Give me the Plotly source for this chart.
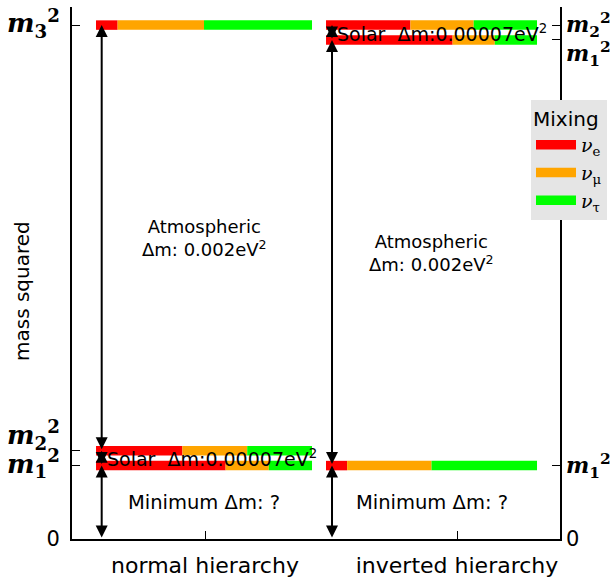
import plotly.graph_objects as go

# ---------------- data ----------------
hierarchies = ["normal hierarchy", "inverted hierarchy"]
flavour_names = ["ν<sub>e</sub>", "ν<sub>μ</sub>", "ν<sub>τ</sub>"]
flavour_colors = ["#ff0000", "#ffa500", "#00ff00"]

# mass-squared of states 1, 2, 3 (eV^2)
normal_mass_sq = [0.000345, 0.000415, 0.002415]
inverted_mass_sq = [0.002345, 0.002415, 0.000345]

# flavour content (e, mu, tau) of states 1, 2, 3
state_mixing = [
    [0.6, 0.2, 0.2],
    [0.4, 0.3, 0.3],
    [0.1, 0.4, 0.5],
]

left_tick_values = [0, 0.000345, 0.000415, 0.002415]
left_tick_subs = ["", "1", "2", "3"]
right_tick_values = [0, 0.000345, 0.002345, 0.002415]
right_tick_subs = ["", "1", "1", "2"]

atmospheric_dm = "0.002"
solar_dm = "0.00007"

# ---------------- layout constants ----------------
W, H = 613, 580
PLOT_TOP, PLOT_H = 7, 532
X_RANGE = [0.4722, 2.4087]
Y_RANGE = [0, 0.0025]
bar_extent = {"normal hierarchy": (0.5675, 1.4246), "inverted hierarchy": (1.4802, 2.3175)}
arrow_x = {"normal hierarchy": 0.590, "inverted hierarchy": 1.504}
BAR_W = 9.5
SANS = "DejaVu Sans"
SERIF = "DejaVu Serif"
# tick labels nudged up (-1) or down (+1) by one blank line to separate crowded labels
left_nudge = [0, 0, -1, 0]
right_nudge = [0, 0, 1, 0]


def mass_label(sub, size, nudge=0):
    if sub == "":
        return "0"
    lab = ("<span style='font-family:DejaVu Serif;font-size:%dpx;font-weight:bold'>" % size
           + "<i>m</i><sub>" + sub + "</sub><sup>2</sup></span>")
    if nudge < 0:
        return lab + "<br> "
    if nudge > 0:
        return " <br>" + lab
    return lab


fig = go.Figure()

levels = {"normal hierarchy": normal_mass_sq, "inverted hierarchy": inverted_mass_sq}
shown = [False, False, False]
for h in hierarchies:
    x0, x1 = bar_extent[h]
    for s, m2 in enumerate(levels[h]):
        start = 0.0
        for f, frac in enumerate(state_mixing[s]):
            a = x0 + (x1 - x0) * start
            b = x0 + (x1 - x0) * (start + frac)
            start += frac
            base, sub = flavour_names[f].split("<sub>")
            fig.add_trace(go.Scatter(
                x=[a, b], y=[m2, m2], mode="lines",
                line=dict(color=flavour_colors[f], width=BAR_W),
                name="<i>" + base + "</i><sub>" + sub,
                legendgroup=str(f), showlegend=not shown[f],
                yaxis="y2" if h == "inverted hierarchy" else "y",
                hoverinfo="skip",
            ))
            shown[f] = True

# ---------------- arrows ----------------
def arrow(x, y0, y1):
    fig.add_annotation(x=x, y=y1, ax=x, ay=y0, xref="x", yref="y", axref="x", ayref="y",
                       text="", showarrow=True, arrowhead=2, arrowside="end+start",
                       arrowsize=1.2, arrowwidth=2, arrowcolor="black")

n1, n2, n3 = normal_mass_sq
i1, i2, i3 = inverted_mass_sq
arrow(arrow_x["normal hierarchy"], n2, n3)
arrow(arrow_x["normal hierarchy"], n1, n2)
arrow(arrow_x["normal hierarchy"], 0, n1)
arrow(arrow_x["inverted hierarchy"], i3, i1)
arrow(arrow_x["inverted hierarchy"], i1, i2)
arrow(arrow_x["inverted hierarchy"], 0, i3)

# ---------------- text labels ----------------
tfont = dict(family=SANS, size=18, color="black")
for h, (lo, hi), (sl, sh), top in [
    ("normal hierarchy", (n2, n3), (n1, n2), n1),
    ("inverted hierarchy", (i3, i1), (i1, i2), i3),
]:
    cx = sum(bar_extent[h]) / 2
    fig.add_annotation(x=cx, y=(lo + hi) / 2, xref="x", yref="y", showarrow=False,
                       text="Atmospheric<br>Δm: " + atmospheric_dm + "eV<sup>2</sup>", font=tfont)
    fig.add_annotation(x=arrow_x[h], y=(sl + sh) / 2, xref="x", yref="y", showarrow=False,
                       xanchor="left", xshift=3,
                       text="Solar  Δm:" + solar_dm + "eV<sup>2</sup>",
                       font=dict(family=SANS, size=19, color="black"))
    fig.add_annotation(x=cx, y=top / 2, xref="x", yref="y", showarrow=False,
                       text="Minimum Δm: ?", font=dict(family=SANS, size=19.5, color="black"))

# y-axis title
fig.add_annotation(x=-(72 - 22) / 488, y=1 - (291 - PLOT_TOP) / PLOT_H, xref="paper", yref="paper",
                   xanchor="center", yanchor="middle",
                   showarrow=False, textangle=-90, text="mass squared",
                   font=dict(family=SANS, size=20, color="black"))

axis_common = dict(showgrid=False, zeroline=False, ticks="inside", ticklen=8, tickwidth=1,
                   tickcolor="black", showline=True, linecolor="black", automargin=False,
                   ticklabeloverflow="allow")

fig.update_layout(
    width=W, height=H,
    margin=dict(l=72, r=53, t=PLOT_TOP, b=H - PLOT_TOP - PLOT_H, pad=0, autoexpand=False),
    plot_bgcolor="white", paper_bgcolor="white",
    xaxis=dict(range=X_RANGE, tickvals=[1, 2], ticktext=hierarchies, linewidth=2,
               tickfont=dict(family=SANS, size=22, color="black"), ticklabelstandoff=6,
               **axis_common),
    yaxis=dict(range=Y_RANGE, tickvals=left_tick_values,
               ticktext=[mass_label(s, 26, n) for s, n in zip(left_tick_subs, left_nudge)],
               linewidth=2, tickfont=dict(family=SANS, size=21, color="black"), ticklabelstandoff=6,
               **axis_common),
    yaxis2=dict(range=Y_RANGE, overlaying="y", side="right", tickvals=right_tick_values,
                ticktext=[mass_label(s, 22, n) for s, n in zip(right_tick_subs, right_nudge)],
                linewidth=1.5, tickfont=dict(family=SANS, size=21, color="black"), ticklabelstandoff=0,
                **axis_common),
    legend=dict(x=(531 - 72) / 488, y=1 - (100 - PLOT_TOP) / PLOT_H, xanchor="left", yanchor="top",
                bgcolor="#e5e5e5", borderwidth=0, tracegroupgap=0,
                title=dict(text="Mixing", font=dict(family=SANS, size=20, color="black")),
                font=dict(family=SERIF, size=19, color="black"), itemwidth=40),
    showlegend=True,
)

# remove the default page margin so the 613x580 figure fills the window exactly
fig.write_html("out.html", config={"displayModeBar": False},
               post_script="document.body.style.margin='0';document.body.style.overflow='hidden';")
